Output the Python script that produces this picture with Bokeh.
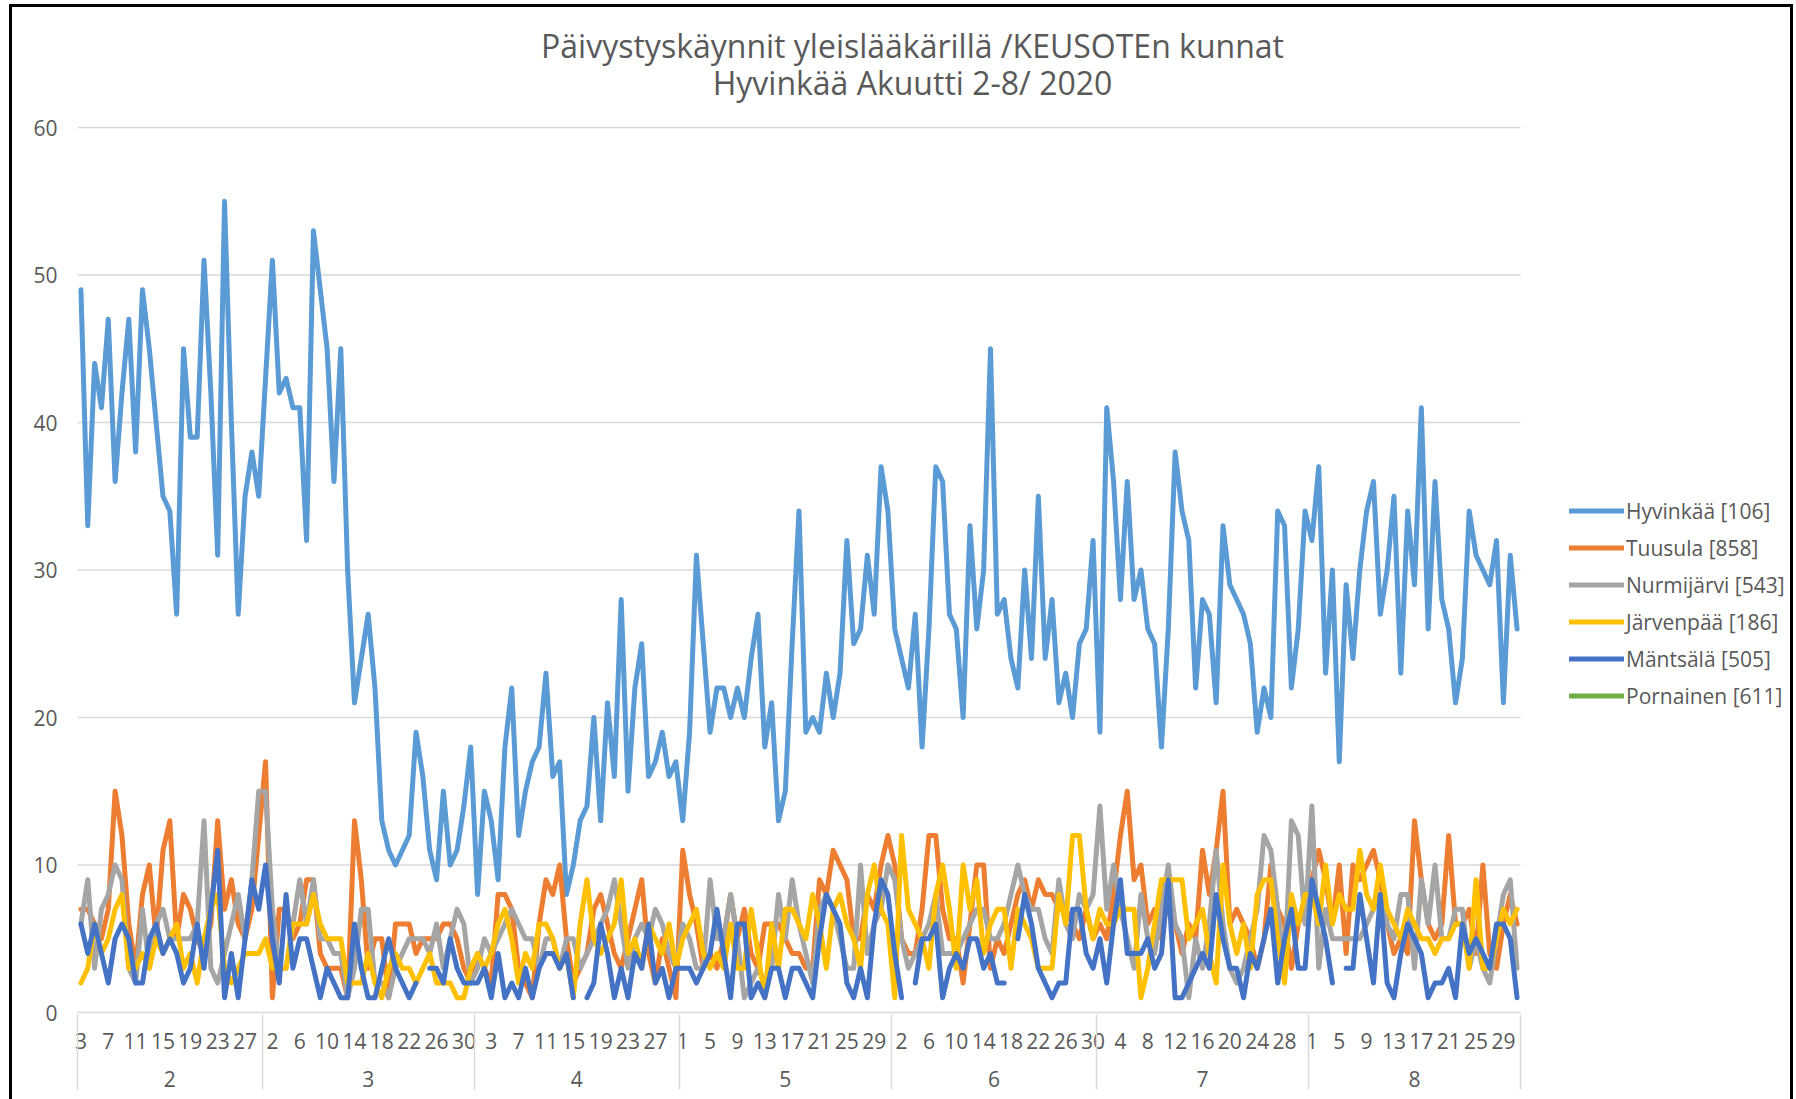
import pandas as pd
from bokeh.plotting import figure
from bokeh.models import (Range1d, LinearAxis, FixedTicker, Legend, LegendItem,
                          Label)
from bokeh.embed import file_html
from bokeh.resources import INLINE

nan = float("nan")

# ---- categories: every day from 3 Feb to 31 Aug 2020 ----
start_date = "2020-02-03"
end_date = "2020-08-31"
dates = pd.date_range(start_date, end_date, freq="D")
day_labels = [str(d.day) for d in dates]
month_labels = [str(d.month) for d in dates]

series_names = ["Hyvinkää [106]", "Tuusula [858]", "Nurmijärvi [543]",
                "Järvenpää [186]", "Mäntsälä [505]", "Pornainen [611]"]
series_colors = ["#5B9BD5", "#ED7D31", "#A5A5A5", "#FFC000", "#4472C4", "#70AD47"]

hyvinkaa = [
    49, 33, 44, 41, 47, 36, 42, 47, 38, 49,
    45, 40, 35, 34, 27, 45, 39, 39, 51, 42,
    31, 55, 40, 27, 35, 38, 35, 43, 51, 42,
    43, 41, 41, 32, 53, 49, 45, 36, 45, 30,
    21, 24, 27, 22, 13, 11, 10, 11, 12, 19,
    16, 11, 9, 15, 10, 11, 14, 18, 8, 15,
    13, 9, 18, 22, 12, 15, 17, 18, 23, 16,
    17, 8, 10, 13, 14, 20, 13, 21, 16, 28,
    15, 22, 25, 16, 17, 19, 16, 17, 13, 19,
    31, 25, 19, 22, 22, 20, 22, 20, 24, 27,
    18, 21, 13, 15, 25, 34, 19, 20, 19, 23,
    20, 23, 32, 25, 26, 31, 27, 37, 34, 26,
    24, 22, 27, 18, 26, 37, 36, 27, 26, 20,
    33, 26, 30, 45, 27, 28, 24, 22, 30, 24,
    35, 24, 28, 21, 23, 20, 25, 26, 32, 19,
    41, 36, 28, 36, 28, 30, 26, 25, 18, 26,
    38, 34, 32, 22, 28, 27, 21, 33, 29, 28,
    27, 25, 19, 22, 20, 34, 33, 22, 26, 34,
    32, 37, 23, 30, 17, 29, 24, 30, 34, 36,
    27, 30, 35, 23, 34, 29, 41, 26, 36, 28,
    26, 21, 24, 34, 31, 30, 29, 32, 21, 31, 26,
]

tuusula = [
    7, 7, 6, 5, 7, 15, 12, 6, 3, 8,
    10, 5, 11, 13, 5, 8, 7, 5, 4, 6,
    13, 7, 9, 6, 5, 7, 12, 17, 1, 7,
    7, 5, 6, 9, 9, 4, 3, 3, 3, 1,
    13, 9, 3, 5, 5, 1, 6, 6, 6, 4,
    5, 5, 5, 6, 6, 5, 3, 2, 4, 3,
    2, 8, 8, 7, 3, 2, 1, 6, 9, 8,
    10, 5, 2, 3, 4, 7, 8, 6, 4, 3,
    5, 7, 9, 4, 2, 5, 3, 1, 11, 8,
    6, 3, 4, 3, 5, 8, 5, 7, 4, 3,
    6, 6, 6, 5, 4, 4, 3, 3, 9, 8,
    11, 10, 9, 5, 5, 8, 7, 10, 12, 10,
    5, 4, 4, 7, 12, 12, 7, 5, 5, 2,
    6, 10, 10, 3, 5, 4, 6, 8, 9, 7,
    9, 8, 8, 7, 7, 6, 5, 7, 5, 6,
    5, 8, 12, 15, 9, 10, 6, 7, 5, 8,
    6, 4, 6, 5, 11, 8, 11, 15, 6, 7,
    6, 5, 3, 5, 10, 7, 6, 3, 6, 7,
    9, 11, 9, 6, 10, 4, 10, 9, 10, 11,
    9, 6, 4, 5, 4, 13, 9, 6, 5, 6,
    12, 6, 6, 7, 4, 10, 4, 3, 6, 8, 6,
]

nurmijarvi = [
    6, 9, 3, 7, 8, 10, 9, 3, 2, 7,
    3, 6, 7, 5, 5, 5, 5, 6, 13, 3,
    2, 4, 6, 8, 5, 9, 15, 15, 7, 3,
    3, 6, 9, 6, 9, 5, 5, 4, 4, 1,
    3, 7, 7, 2, 2, 1, 3, 4, 5, 5,
    5, 4, 6, 3, 5, 7, 6, 2, 3, 5,
    4, 5, 6, 7, 6, 5, 5, 3, 5, 5,
    3, 5, 5, 3, 4, 5, 6, 7, 9, 6,
    3, 5, 6, 5, 7, 6, 4, 3, 6, 5,
    3, 3, 9, 5, 5, 8, 5, 1, 2, 3,
    2, 3, 8, 5, 9, 6, 4, 2, 7, 8,
    7, 5, 3, 3, 10, 4, 6, 7, 10, 9,
    5, 3, 4, 5, 6, 8, 4, 4, 4, 5,
    6, 7, 7, 5, 5, 6, 8, 10, 8, 7,
    7, 5, 4, 9, 6, 5, 8, 7, 8, 14,
    7, 10, 7, 5, 3, 8, 5, 4, 7, 10,
    6, 5, 1, 5, 3, 6, 11, 6, 3, 2,
    3, 5, 7, 12, 11, 7, 3, 13, 12, 6,
    14, 3, 7, 5, 5, 5, 5, 5, 6, 7,
    8, 6, 5, 8, 8, 3, 9, 6, 10, 5,
    5, 7, 7, 3, 5, 3, 2, 5, 8, 9, 3,
]

jarvenpaa = [
    2, 3, 6, 4, 5, 7, 8, 3, 3, 4,
    3, 5, 4, 5, 6, 3, 4, 2, 5, 7,
    8, 3, 2, 3, 4, 4, 4, 5, 3, 3,
    3, 6, 6, 6, 8, 6, 5, 5, 5, 2,
    2, 2, 4, 2, 1, 3, 4, 3, 3, 2,
    3, 4, 2, 2, 2, 1, 1, 3, 4, 3,
    4, 6, 7, 5, 2, 4, 3, 6, 6, 5,
    3, 4, 1, 6, 9, 5, 4, 5, 6, 9,
    4, 5, 3, 6, 5, 4, 6, 3, 5, 6,
    7, 4, 3, 4, 3, 6, 3, 3, 7, 4,
    1, 6, 3, 7, 7, 6, 5, 8, 6, 3,
    7, 8, 6, 5, 3, 8, 10, 7, 6, 1,
    12, 7, 6, 5, 3, 8, 10, 7, 3, 10,
    7, 9, 4, 6, 7, 7, 3, 7, 6, 5,
    3, 3, 3, 8, 6, 12, 12, 7, 5, 7,
    6, 6, 7, 7, 7, 1, 3, 6, 9, 9,
    9, 9, 5, 6, 7, 4, 2, 10, 6, 4,
    6, 3, 8, 9, 9, 5, 2, 8, 6, 8,
    8, 6, 10, 6, 8, 7, 7, 11, 8, 7,
    10, 7, 6, 5, 7, 6, 5, 5, 4, 5,
    5, 6, 6, 3, 9, 3, 3, 5, 7, 6, 7,
]

mantsala = [
    6, 4, 6, 4, 2, 5, 6, 5, 2, 2,
    5, 6, 4, 5, 4, 2, 3, 6, 3, 7,
    11, 1, 4, 1, 5, 9, 7, 10, 5, 2,
    8, 3, 5, 5, 3, 1, 3, 2, 1, 1,
    6, 3, 1, 1, 3, 5, 3, 2, 1, 2,
    nan, 3, 3, 2, 5, 3, 2, 2, 2, 3,
    1, 4, 1, 2, 1, 3, 1, 3, 4, 4,
    3, 4, 1, nan, 1, 2, 6, 4, 1, 3,
    1, 4, 3, 6, 2, 3, 1, 3, 3, 3,
    2, 3, 4, 7, 4, 1, 6, 6, 1, 2,
    1, 3, 3, 1, 3, 3, 2, 1, 5, 8,
    7, 6, 2, 1, 3, 1, 6, 9, 8, 4,
    1, nan, 2, 5, 5, 6, 1, 3, 4, 3,
    5, 5, 3, 4, 2, 2, nan, 5, 8, 6,
    3, 2, 1, 2, 2, 7, 7, 4, 3, 5,
    2, 6, 9, 4, 4, 4, 5, 3, 4, 9,
    1, 1, 2, 3, 4, 3, 8, 5, 3, 3,
    1, 4, 3, 5, 7, 2, 5, 7, 3, 3,
    9, 7, 5, 2, nan, 3, 3, 8, 5, 2,
    8, 2, 1, 4, 6, 5, 4, 1, 2, 2,
    3, 1, 6, 4, 5, 4, 3, 6, 6, 5, 1,
]

# Pornainen: no values are visible in the chart (all cells empty)
pornainen = [None] * len(dates)

y_ticks = [0, 10, 20, 30, 40, 50, 60]
day_label_step = 4

title_line1 = "Päivystyskäynnit yleislääkärillä /KEUSOTEn kunnat"
title_line2 = "Hyvinkää Akuutti 2-8/ 2020"

# ---- derived positions ----
n = len(dates)
xs = list(range(n))
day_ticks = xs[::day_label_step]
x_lo, x_hi = -0.5, n - 0.5
bounds = [x_lo]
month_ticks = []
month_names = []
start = 0
for i in range(1, n + 1):
    if i == n or month_labels[i] != month_labels[i - 1]:
        bounds.append(i - 0.5)
        month_ticks.append((start + i - 1) / 2.0)
        month_names.append(month_labels[start])
        start = i

TEXT = "#595959"
GRID = "#d9d9d9"
W, H = 1796, 1099
FRAME_L, FRAME_B = 77, 1012          # frame left / bottom on the canvas
DATA_R, DATA_T = 1520, 127           # right / top pixel of the data area
px_x = (DATA_R - FRAME_L) / (x_hi - x_lo)
px_y = (FRAME_B - DATA_T) / (y_ticks[-1] - y_ticks[0])

# frame extends right and up so that legend and titles sit inside it
p = figure(width=W, height=H,
           x_range=Range1d(x_lo, x_hi + (W - DATA_R) / px_x),
           y_range=Range1d(y_ticks[0], y_ticks[-1] + DATA_T / px_y),
           x_axis_type=None, output_backend="svg", toolbar_location=None,
           min_border_left=FRAME_L, min_border_right=0, min_border_top=0,
           min_border_bottom=H - FRAME_B)
p.outline_line_color = None
p.background_fill_color = None
p.border_fill_color = None
p.styles = {"background": (
    "linear-gradient(#000,#000) 9px 4px / 3px 1095px no-repeat, "
    "linear-gradient(#000,#000) 9px 4px / 1784px 3px no-repeat, "
    "linear-gradient(#000,#000) 1790px 4px / 3px 1095px no-repeat, #ffffff")}

# y axis
p.yaxis.ticker = FixedTicker(ticks=y_ticks)
p.yaxis.bounds = (y_ticks[0], y_ticks[-1])
p.yaxis.axis_line_color = None
p.yaxis.major_tick_line_color = None
p.yaxis.minor_tick_line_color = None
p.yaxis.major_tick_out = 0
p.yaxis.major_tick_in = 0
p.yaxis.major_label_standoff = 20
p.yaxis.major_label_text_font = "Open Sans"
p.yaxis.major_label_text_font_size = "21px"
p.yaxis.major_label_text_color = TEXT
p.ygrid.grid_line_color = None

# horizontal grid lines only across the data area
grid_vals = y_ticks[1:]
p.segment(x0=[x_lo] * len(grid_vals), x1=[x_hi] * len(grid_vals),
          y0=grid_vals, y1=grid_vals, line_color=GRID, line_width=1.5)

# x axis: day numbers (every 4th day)
day_axis = LinearAxis(
    ticker=FixedTicker(ticks=day_ticks), bounds=(x_lo, x_hi),
    major_label_overrides={t: day_labels[t] for t in day_ticks},
    major_tick_line_color=None, major_tick_out=0, major_tick_in=0,
    minor_tick_line_color=None, minor_tick_out=0, minor_tick_in=0,
    axis_line_color=GRID, axis_line_width=1.5,
    major_label_standoff=20,
    major_label_text_font="Open Sans", major_label_text_font_size="21px",
    major_label_text_color=TEXT)
p.add_layout(day_axis, "below")

# x axis: month numbers
month_axis = LinearAxis(
    ticker=FixedTicker(ticks=month_ticks), bounds=(x_lo, x_hi),
    major_label_overrides={t: m for t, m in zip(month_ticks, month_names)},
    major_tick_line_color=None, major_tick_out=0, major_tick_in=0,
    minor_tick_line_color=None, minor_tick_out=0, minor_tick_in=0,
    axis_line_color=None,
    major_label_standoff=19,
    major_label_text_font="Open Sans", major_label_text_font_size="21px",
    major_label_text_color=TEXT)
p.add_layout(month_axis, "below")

# month separators: ticks pointing up through both label rows
sep_axis = LinearAxis(
    ticker=FixedTicker(ticks=[], minor_ticks=bounds), bounds=(x_lo, x_hi),
    major_tick_line_color=None, major_tick_out=0, major_tick_in=0,
    minor_tick_line_color=GRID, minor_tick_line_width=1.5,
    minor_tick_out=0, minor_tick_in=75,
    axis_line_color=None, major_label_standoff=0,
    major_label_text_font_size="0px")
p.add_layout(sep_axis, "below")

# series
all_series = [hyvinkaa, tuusula, nurmijarvi, jarvenpaa, mantsala, pornainen]
items = []
for name, col, vals in zip(series_names, series_colors, all_series):
    ys = [nan if v is None else v for v in vals]
    r = p.line(xs, ys, line_color=col, line_width=5,
               line_join="round", line_cap="round")
    items.append(LegendItem(label=name, renderers=[r]))

legend = Legend(items=items, location=(1492, 302), orientation="vertical",
                glyph_width=55, glyph_height=29, label_height=29, spacing=8,
                label_standoff=2, padding=0, margin=0,
                border_line_color=None, background_fill_alpha=0,
                label_text_font="Open Sans", label_text_font_size="21px",
                label_text_color=TEXT, label_text_baseline="middle")
p.add_layout(legend)

# titles (centred over the whole chart area)
p.add_layout(Label(x=835, y=967, x_units="screen", y_units="screen",
                   text=title_line1, text_align="center", text_baseline="middle",
                   text_font="Open Sans", text_font_size="32px", text_color=TEXT))
p.add_layout(Label(x=835, y=930, x_units="screen", y_units="screen",
                   text=title_line2, text_align="center", text_baseline="middle",
                   text_font="Open Sans", text_font_size="32px", text_color=TEXT))

open("out.html", "w").write(file_html(p, INLINE))
